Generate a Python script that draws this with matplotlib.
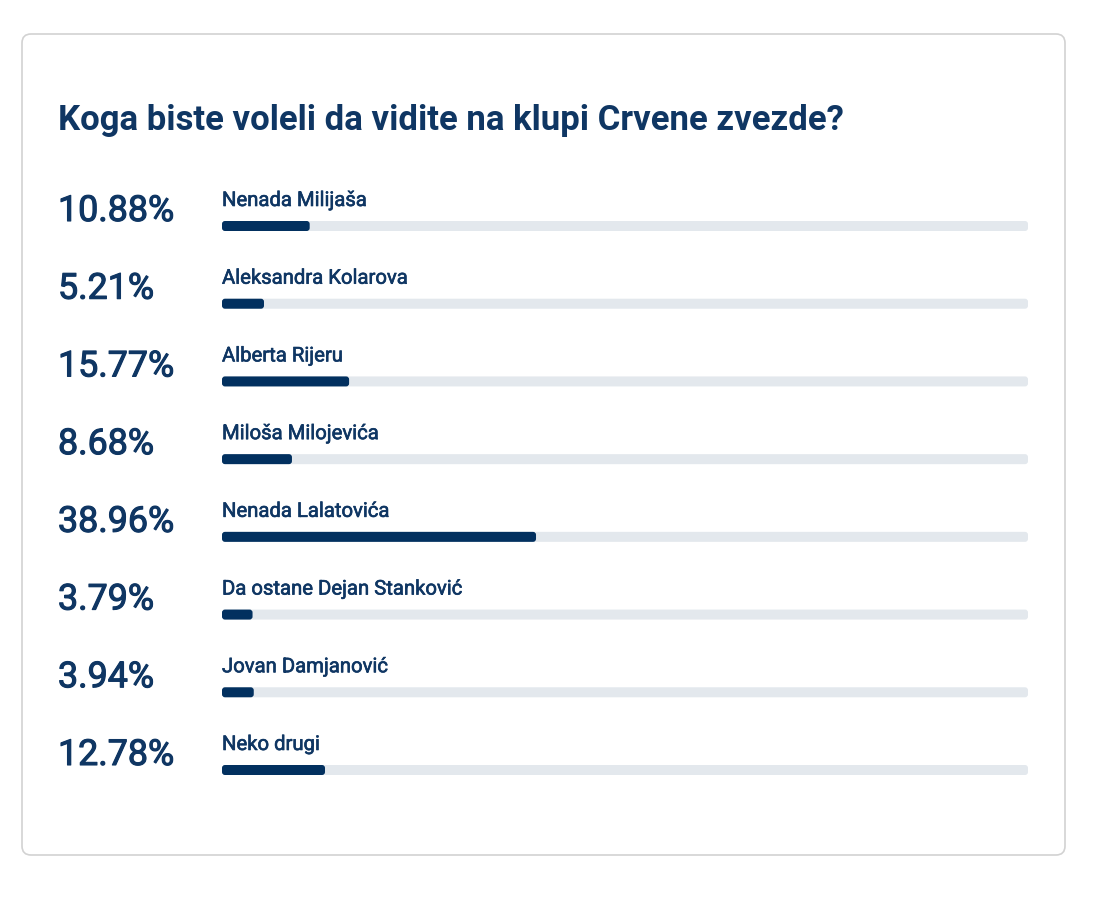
import matplotlib
matplotlib.use("Agg")
import matplotlib.pyplot as plt
from matplotlib.patches import FancyBboxPatch
from matplotlib import transforms
import matplotlib.patheffects as pe

title = "Koga biste voleli da vidite na klupi Crvene zvezde?"
names = ["Nenada Milijaša", "Aleksandra Kolarova", "Alberta Rijeru", "Miloša Milojevića",
         "Nenada Lalatovića", "Da ostane Dejan Stanković", "Jovan Damjanović", "Neko drugi"]
values = [10.88, 5.21, 15.77, 8.68, 38.96, 3.79, 3.94, 12.78]

NAVY = "#02305f"
TEXT = "#0f3663"
TRACK = "#e3e8ed"

plt.rcParams['font.family'] = ['Roboto', 'DejaVu Sans']

W, H = 1100, 904
fig = plt.figure(figsize=(W / 100, H / 100), dpi=100)
fig.patch.set_facecolor("white")

bg = fig.add_axes([0, 0, 1, 1])
bg.set_xlim(0, W)
bg.set_ylim(H, 0)
bg.axis("off")
card = FancyBboxPatch((22, 35), 1043, 821, boxstyle="round,pad=0,rounding_size=9",
                      facecolor="white", edgecolor="#d2d2d2", linewidth=1.2)
bg.add_patch(card)
bg.text(58, 130, title, fontsize=25, fontweight="bold", color=TEXT, va="baseline", ha="left")

# bars axes
x0, x1 = 222, 1028
yc0, yc7 = 227, 771
step = (yc7 - yc0) / 7
top = yc0 - step / 2
bot = yc7 + step / 2
ax = fig.add_axes([x0 / W, 1 - bot / H, (x1 - x0) / W, (bot - top) / H])
ax.set_xlim(0, 100)
ax.set_ylim(len(values) - 0.5, -0.5)
ax.axis("off")

n = len(values)
ypos = list(range(n))
bh = 10 / step
px_x = 100 / (x1 - x0)
aspect = (1 / step) / px_x

tracks = ax.barh(ypos, [100] * n, height=bh, color=TRACK)
fills = ax.barh(ypos, values, height=bh, color=NAVY)
for group, col in ((tracks, TRACK), (fills, NAVY)):
    for p in group:
        x, y, w, h = p.get_x(), p.get_y(), p.get_width(), p.get_height()
        p.set_visible(False)
        r = FancyBboxPatch((x, y), w, h, boxstyle=f"round,pad=0,rounding_size={3 * px_x}",
                           mutation_aspect=aspect, facecolor=col, edgecolor="none")
        ax.add_patch(r)

med_small = [pe.withStroke(linewidth=0.45, foreground=TEXT)]
med_big = [pe.withStroke(linewidth=0.8, foreground=TEXT)]
blend = transforms.blended_transform_factory(ax.transAxes, ax.transData)
for i, (nm, v) in enumerate(zip(names, values)):
    ax.text(0, i - 20 / step, nm, fontsize=14.6, color=TEXT,
            va="baseline", ha="left", path_effects=med_small)
    ax.text((58 - x0) / (x1 - x0), i - 5 / step, f"{v:.2f}%", transform=blend,
            fontsize=25.8, color=TEXT, va="baseline", ha="left", path_effects=med_big)

fig.savefig("out.png", dpi=100, facecolor="white")
